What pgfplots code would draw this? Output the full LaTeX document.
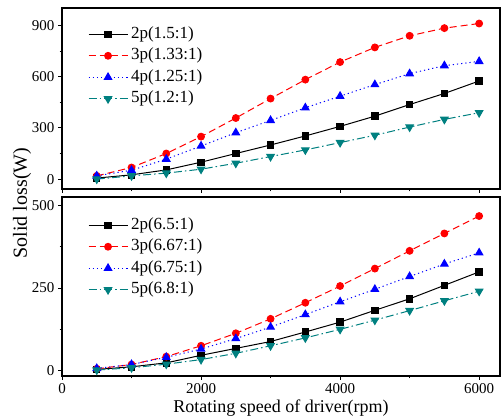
\documentclass[border=0pt]{standalone}
\usepackage{fontspec}
\setmainfont{Liberation Serif}
\usepackage{pgfplots}
\pgfplotsset{compat=1.18}
\definecolor{dcyan}{HTML}{008080}
\newcommand{\legfont}{\fontsize{17}{19}\selectfont}

\pgfplotsset{
  panel/.style={
    scale only axis, width=438pt,
    xmin=0, xmax=6300,
    axis line style={line width=1.1pt},
    tick align=outside, xtick pos=bottom, ytick pos=left,
    xtick={0,2000,4000,6000}, minor x tick num=1, minor y tick num=1,
    major tick length=4pt, minor tick length=2.5pt,
    every tick/.style={line width=0.9pt, black},
    /pgf/number format/assume math mode=true,
    /pgf/number format/1000 sep={},
    tick label style={font=\fontsize{15}{17}\selectfont},
    legend style={draw=none, fill=none, anchor=north west, inner sep=0pt,
      font=\legfont, nodes={inner sep=0pt, text height=12pt, text depth=4pt},
      row sep=5.5pt, /tikz/every odd column/.append style={column sep=3pt}},
    legend cell align=left,
    legend image code/.code={\draw[mark repeat=2,mark phase=2]
      plot coordinates {(0pt,0pt) (19.5pt,0pt) (39pt,0pt)};},
  },
  s2/.style={black, line width=1pt, mark=square*, mark size=3.2pt, mark options={solid}},
  s3/.style={red, line width=1pt, dash pattern=on 7pt off 4pt, mark=*, mark size=3.4pt, mark options={solid}},
  s4/.style={blue, line width=1pt, dash pattern=on 1.2pt off 3pt, mark=triangle*, mark size=4.3pt, mark options={solid}},
  s5/.style={dcyan, line width=1pt, dash pattern=on 8pt off 3pt on 1.5pt off 3pt, mark=triangle*, mark size=4.3pt, mark options={solid, rotate=180}},
}

\begin{document}
\begin{tikzpicture}
% top panel: ratios near 1
\begin{axis}[panel, at={(0pt,187pt)}, anchor=south west, height=181pt,
  ymin=-58, ymax=1003, ytick={0,300,600,900}, xticklabels={},
  legend style={at={(0.059,0.9)}}]
\addplot[s2] coordinates {(500,6)(1000,25)(1500,54)(2000,99)(2500,150)(3000,200)(3500,253)(4000,309)(4500,369)(5000,437)(5500,502)(6000,575)};
\addplot[s3] coordinates {(500,19)(1000,68)(1500,150)(2000,249)(2500,358)(3000,472)(3500,583)(4000,686)(4500,772)(5000,840)(5500,885)(6000,912)};
\addplot[s4] coordinates {(500,19)(1000,52)(1500,117)(2000,194)(2500,272)(3000,344)(3500,418)(4000,486)(4500,554)(5000,618)(5500,665)(6000,690)};
\addplot[s5] coordinates {(500,0)(1000,19)(1500,35)(2000,58)(2500,93)(3000,132)(3500,171)(4000,214)(4500,257)(5000,305)(5500,350)(6000,389)};
\addlegendentry{2p(1.5:1)}
\addlegendentry{3p(1.33:1)}
\addlegendentry{4p(1.25:1)}
\addlegendentry{5p(1.2:1)}
\end{axis}
% bottom panel: ratios near 6.7
\begin{axis}[panel, at={(0pt,0pt)}, anchor=south west, height=179pt,
  ymin=-18, ymax=527, ytick={0,250,500},
  legend style={at={(0.059,0.888)}},
  xlabel={Rotating speed of driver(rpm)},
  xlabel style={font=\fontsize{18}{20}\selectfont, yshift=1pt}]
\addplot[s2] coordinates {(500,2)(1000,10)(1500,22)(2000,45)(2500,66)(3000,87)(3500,116)(4000,146)(4500,182)(5000,217)(5500,258)(6000,299)};
\addplot[s3] coordinates {(500,4)(1000,17)(1500,41)(2000,74)(2500,112)(3000,156)(3500,205)(4000,256)(4500,309)(5000,363)(5500,416)(6000,469)};
\addplot[s4] coordinates {(500,5)(1000,17)(1500,39)(2000,64)(2500,96)(3000,131)(3500,169)(4000,208)(4500,246)(5000,285)(5500,323)(6000,357)};
\addplot[s5] coordinates {(500,0)(1000,7)(1500,18)(2000,32)(2500,51)(3000,74)(3500,98)(4000,124)(4500,152)(5000,181)(5500,211)(6000,240)};
\addlegendentry{2p(6.5:1)}
\addlegendentry{3p(6.67:1)}
\addlegendentry{4p(6.75:1)}
\addlegendentry{5p(6.8:1)}
\end{axis}
\node[rotate=90, font=\fontsize{20}{22}\selectfont] at (-40pt,173pt) {Solid loss(W)};
\pgfresetboundingbox
\path (-62pt,-43pt) rectangle (440pt,376pt);
\end{tikzpicture}
\end{document}
